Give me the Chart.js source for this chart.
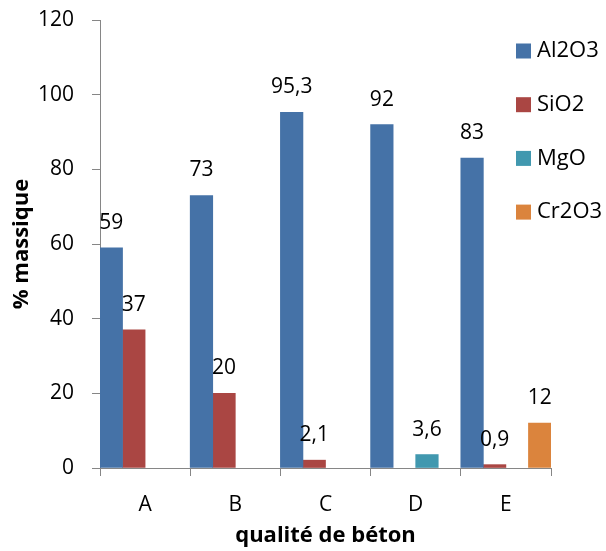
<!DOCTYPE html>
<html lang="fr">
<head>
    <meta charset="UTF-8">
    <title>Composition des bétons</title>
    <script src="https://cdn.jsdelivr.net/npm/chart.js"></script>
    <style>
        body { margin: 0; background: #ffffff; }
        .wrap { width: 606px; height: 551px; position: relative; }
    </style>
</head>
<body>
<div class="wrap">
    <canvas id="chart"></canvas>
</div>
<script>
    // qualités de béton et teneurs (% massique)
    const qualites = ['A', 'B', 'C', 'D', 'E'];
    const al2o3 = [59, 73, 95.3, 92, 83];
    const sio2 = [37, 20, 2.1, null, 0.9];
    const mgo = [null, null, null, 3.6, null];
    const cr2o3 = [null, null, null, null, 12];
    const yTicks = [0, 20, 40, 60, 80, 100, 120];

    const couleurs = ['#4572A7', '#AA4643', '#4198AF', '#DB843D'];
    const axe = '#868686';

    Chart.defaults.font.family = "'Open Sans', sans-serif";
    Chart.defaults.font.size = 21;
    Chart.defaults.color = '#000000';

    // étiquettes de valeur au-dessus des barres
    const etiquettes = {
        id: 'etiquettes',
        afterDatasetsDraw(chart) {
            const ctx = chart.ctx;
            ctx.save();
            ctx.font = "21px 'Open Sans', sans-serif";
            ctx.fillStyle = '#000';
            ctx.textAlign = 'center';
            ctx.textBaseline = 'alphabetic';
            chart.data.datasets.forEach((ds, i) => {
                chart.getDatasetMeta(i).data.forEach((bar, j) => {
                    const v = ds.data[j];
                    if (v === null || v === undefined) return;
                    ctx.fillText(String(v).replace('.', ','), bar.x, bar.y - 19);
                });
            });
            ctx.restore();
        }
    };

    // légende verticale en haut à droite
    const legende = {
        id: 'legende',
        afterDraw(chart) {
            const ctx = chart.ctx;
            ctx.save();
            ctx.font = "22px 'Open Sans', sans-serif";
            ctx.textBaseline = 'middle';
            ctx.textAlign = 'left';
            chart.data.datasets.forEach((ds, i) => {
                const y = 51 + i * 53.7;
                ctx.fillStyle = ds.backgroundColor;
                ctx.fillRect(516, y - 7.5, 15, 15);
                ctx.fillStyle = '#000';
                ctx.fillText(ds.label, 537, y);
            });
            ctx.restore();
        }
    };

    new Chart(document.getElementById('chart'), {
        type: 'bar',
        data: {
            labels: qualites,
            datasets: [
                { label: 'Al2O3', data: al2o3, backgroundColor: couleurs[0] },
                { label: 'SiO2', data: sio2, backgroundColor: couleurs[1] },
                { label: 'MgO', data: mgo, backgroundColor: couleurs[2] },
                { label: 'Cr2O3', data: cr2o3, backgroundColor: couleurs[3] }
            ]
        },
        options: {
            responsive: true,
            maintainAspectRatio: false,
            animation: false,
            datasets: { bar: { barPercentage: 1, categoryPercentage: 1, borderWidth: 0 } },
            layout: { padding: { left: 0, right: 55, top: 20, bottom: 0 } },
            plugins: { legend: { display: false }, tooltip: { enabled: false } },
            scales: {
                x: {
                    grid: { drawOnChartArea: false, tickLength: 8, color: axe },
                    border: { color: axe },
                    ticks: { padding: 16 },
                    title: {
                        display: true,
                        text: 'qualité de béton',
                        font: { size: 22, weight: 'bold' },
                        padding: { top: 4, bottom: 2 }
                    },
                    afterFit(scale) { scale.height = 83; }
                },
                y: {
                    min: 0,
                    max: 120,
                    afterBuildTicks(scale) { scale.ticks = yTicks.map(v => ({ value: v })); },
                    grid: { drawOnChartArea: false, tickLength: 8, color: axe },
                    border: { color: axe },
                    ticks: { padding: 18 },
                    title: {
                        display: true,
                        text: '% massique',
                        font: { size: 22, weight: 'bold' },
                        padding: { top: 9, bottom: 4 }
                    },
                    afterFit(scale) {
                        scale.width = 100;
                        scale.paddingTop = 0;
                        scale.paddingBottom = 0;
                    }
                }
            }
        },
        plugins: [etiquettes, legende]
    });
</script>
</body>
</html>
